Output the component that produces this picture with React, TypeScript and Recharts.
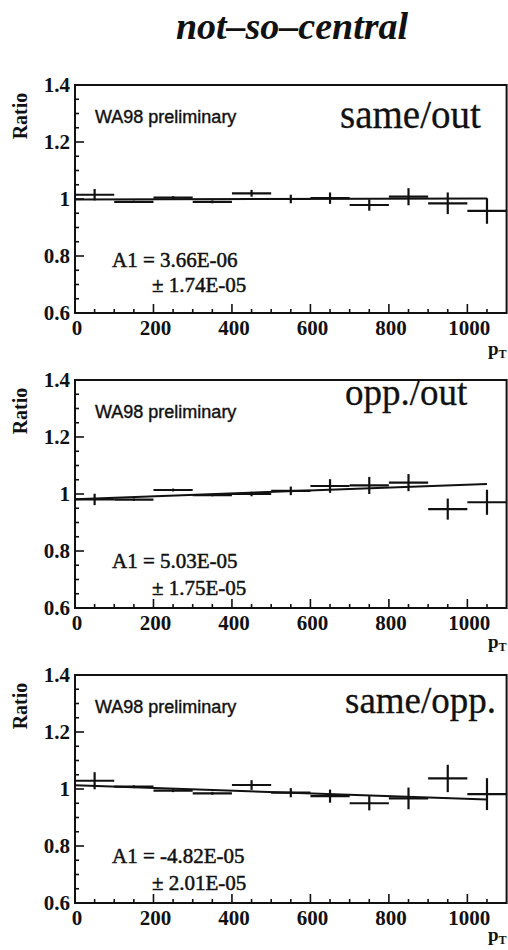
import React from "react";
import { ComposedChart, Scatter, ErrorBar, XAxis, YAxis, ReferenceArea } from "recharts";

// p_T bin centres (MeV/c), each bin is 100 wide
const binCenters = [50, 150, 250, 350, 450, 550, 650, 750, 850, 950, 1050];
const binHalfWidth = 50;

// same/out
const sameOutRatio = [1.015, 0.99, 1.005, 0.99, 1.02, 1.0, 1.003, 0.979, 1.008, 0.985, 0.958];
const sameOutErr = [0.02, 0.004, 0.005, 0.005, 0.012, 0.015, 0.02, 0.02, 0.03, 0.038, 0.045];
const sameOutFit = [0.998, 1.002];

// opp./out
const oppOutRatio = [0.981, 0.98, 1.014, 0.996, 1.0, 1.011, 1.028, 1.03, 1.04, 0.947, 0.971];
const oppOutErr = [0.02, 0.004, 0.005, 0.004, 0.008, 0.015, 0.024, 0.03, 0.03, 0.037, 0.044];
const oppOutFit = [0.982, 1.035];

// same/opp.
const sameOppRatio = [1.029, 1.008, 0.994, 0.985, 1.014, 0.987, 0.975, 0.95, 0.967, 1.037, 0.982];
const sameOppErr = [0.03, 0.005, 0.005, 0.005, 0.017, 0.016, 0.023, 0.025, 0.038, 0.048, 0.056];
const sameOppFit = [1.013, 0.963];

const fitRange = [0, 1050];

const panelNames = ["same/out", "opp./out", "same/opp."];
const slopeTexts = ["A1 = 3.66E-06", "A1 = 5.03E-05", "A1 = -4.82E-05"];
const slopeErrTexts = ["± 1.74E-05", "± 1.75E-05", "± 2.01E-05"];

const xTickValues = [0, 50, 100, 150, 200, 250, 300, 350, 400, 450, 500, 550, 600, 650, 700, 750, 800, 850, 900, 950, 1000, 1050];
const xMajorTicks = [0, 200, 400, 600, 800, 1000];
const yTickValues = [0.6, 0.65, 0.7, 0.75, 0.8, 0.85, 0.9, 0.95, 1.0, 1.05, 1.1, 1.15, 1.2, 1.25, 1.3, 1.35, 1.4];
const yMajorTicks = [0.6, 0.8, 1.0, 1.2, 1.4];
const yTickLabels = ["0.6", "0.8", "1", "1.2", "1.4"];

const INK = "#111";
const SERIF = "'Liberation Serif', 'Times New Roman', serif";
const SANS = "'Liberation Sans', Arial, sans-serif";

const PLOT_LEFT = 75;
const PLOT_RIGHT = 506.6;
const PLOT_H = 228;
const PAD_TOP = 20;
const panelTops = [85, 380, 675];
const nameX = [340, 345, 345];
const nameSize = [39, 37, 37];
const nameBaseline = [43, 25, 38];
const slopeBaseline = [182, 188, 188];
const slopeErrBaseline = [207, 215, 215];
const ptBaseline = [42, 40, 38];

const XTick = (props: any) => {
  const { x, y, payload } = props;
  const v = payload.value;
  const major = xMajorTicks.includes(v);
  return (
    <g>
      <line x1={x} x2={x} y1={y} y2={y - (major ? 9 : 4)} stroke={INK} strokeWidth={1.6} />
      {major && (
        <text x={x + 2} y={y + 22} textAnchor="middle" fontFamily={SERIF} fontWeight="bold" fontSize={21} fill={INK}>
          {v}
        </text>
      )}
    </g>
  );
};

const YTick = (props: any) => {
  const { x, y, payload } = props;
  const v = payload.value;
  const idx = yMajorTicks.findIndex((m) => Math.abs(m - v) < 1e-6);
  const major = idx >= 0;
  return (
    <g>
      <line x1={x} x2={x + (major ? 9 : 4)} y1={y} y2={y} stroke={INK} strokeWidth={1.6} />
      {major && (
        <text x={x - 5} y={y + 7} textAnchor="end" fontFamily={SERIF} fontWeight="bold" fontSize={21} fill={INK}>
          {yTickLabels[idx]}
        </text>
      )}
    </g>
  );
};

const Nothing = () => <g />;

function RatioPanel({ ratio, err, fit, top }: { ratio: number[]; err: number[]; fit: number[]; top: number }) {
  const points = binCenters.map((x, i) => ({ x, y: ratio[i], ex: binHalfWidth, ey: err[i] }));
  const fitLine = fitRange.map((x, i) => ({ x, y: fit[i] }));
  return (
    <div style={{ position: "absolute", left: 0, top: top - PAD_TOP }}>
      <ComposedChart
        width={508}
        height={PLOT_H + PAD_TOP + 30}
        margin={{ top: PAD_TOP, right: 508 - PLOT_RIGHT, bottom: 0, left: 0 }}
      >
        <XAxis
          dataKey="x"
          type="number"
          domain={[0, 1100]}
          allowDataOverflow
          ticks={xTickValues}
          interval={0}
          tick={<XTick />}
          tickSize={0}
          tickMargin={0}
          tickLine={false}
          axisLine={false}
          height={30}
        />
        <YAxis
          dataKey="y"
          type="number"
          domain={[0.6, 1.4]}
          allowDataOverflow
          ticks={yTickValues}
          interval={0}
          tick={<YTick />}
          tickSize={0}
          tickMargin={0}
          tickLine={false}
          axisLine={false}
          width={PLOT_LEFT}
        />
        <ReferenceArea x1={0} x2={1100} y1={0.6} y2={1.4} fill="none" stroke={INK} strokeWidth={2} />
        <Scatter
          data={fitLine}
          line={{ stroke: INK, strokeWidth: 2 }}
          shape={<Nothing />}
          isAnimationActive={false}
        />
        <Scatter data={points} shape={<Nothing />} isAnimationActive={false}>
          <ErrorBar dataKey="ex" direction="x" width={0} stroke={INK} strokeWidth={2.2} />
          <ErrorBar dataKey="ey" direction="y" width={0} stroke={INK} strokeWidth={2.2} />
        </Scatter>
      </ComposedChart>
    </div>
  );
}

export default function App() {
  const series = [
    { ratio: sameOutRatio, err: sameOutErr, fit: sameOutFit },
    { ratio: oppOutRatio, err: oppOutErr, fit: oppOutFit },
    { ratio: sameOppRatio, err: sameOppErr, fit: sameOppFit },
  ];
  return (
    <div style={{ position: "absolute", left: 0, top: 0, width: 508, height: 950, overflow: "hidden", background: "#fff" }}>
      {series.map((s, i) => (
        <RatioPanel key={i} ratio={s.ratio} err={s.err} fit={s.fit} top={panelTops[i]} />
      ))}
      <svg width={508} height={950} style={{ position: "absolute", left: 0, top: 0, pointerEvents: "none" }}>
        <text x={292} y={39} textAnchor="middle" fontFamily={SERIF} fontWeight="bold" fontStyle="italic" fontSize={38} fill={INK}>
          not–so–central
        </text>
        {panelTops.map((t, i) => (
          <g key={i}>
            <text
              transform={`translate(27, ${t + 31}) rotate(-90)`}
              textAnchor="middle"
              fontFamily={SERIF}
              fontWeight="bold"
              fontSize={20}
              fill={INK}
            >
              Ratio
            </text>
            <text x={95} y={t + 38} fontFamily={SANS} fontSize={18} fill={INK} stroke={INK} strokeWidth={0.4}>
              WA98 preliminary
            </text>
            <text x={nameX[i]} y={t + nameBaseline[i]} fontFamily={SERIF} fontSize={nameSize[i]} fill={INK} stroke={INK} strokeWidth={0.3}>
              {panelNames[i]}
            </text>
            <text x={112} y={t + slopeBaseline[i]} fontFamily={SERIF} fontSize={21} fill={INK} stroke={INK} strokeWidth={0.5}>
              {slopeTexts[i]}
            </text>
            <text x={152} y={t + slopeErrBaseline[i]} fontFamily={SERIF} fontSize={21} fill={INK} stroke={INK} strokeWidth={0.5}>
              {slopeErrTexts[i]}
            </text>
            <text x={488} y={t + PLOT_H + ptBaseline[i]} fontFamily={SERIF} fontWeight="bold" fontSize={19} fill={INK}>
              p
              <tspan fontSize={12} dy={3}>T</tspan>
            </text>
          </g>
        ))}
      </svg>
    </div>
  );
}
